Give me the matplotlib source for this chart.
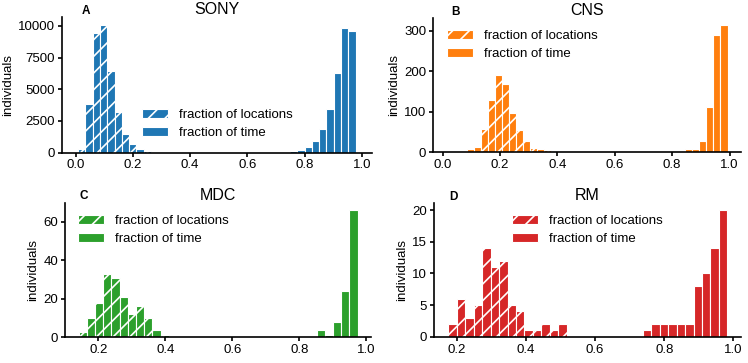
import numpy as np
import matplotlib
matplotlib.use("Agg")
import matplotlib.pyplot as plt
from matplotlib.patches import Patch

plt.rcParams['font.family'] = ['Liberation Sans', 'DejaVu Sans']
plt.rcParams['hatch.linewidth'] = 1.2

# ---------------- data ----------------
titles = ["SONY", "CNS", "MDC", "RM"]
letters = ["A", "B", "C", "D"]
colors = ["#1f77b4", "#ff7f0e", "#2ca02c", "#d62728"]

# bin edges (lo, hi, number of bins)
sony_bins = (0.008, 0.979, 38)
cns_bins = (0.084, 0.993, 37)
mdc_bins = (0.141, 0.974, 34)
rm_bins = (0.1756, 0.9825, 33)

sony_loc = [300, 3800, 9400, 10050, 6400, 3200, 1500, 650, 300, 130, 50, 20] + [0] * 26
sony_time = [0] * 27 + [10, 30, 80, 190, 420, 930, 1830, 3470, 6240, 9810, 9630]

cns_loc = [8, 12, 58, 130, 191, 169, 98, 56, 27, 10, 7, 5] + [0] * 25
cns_time = [0] * 29 + [2, 0, 7, 7, 27, 111, 290, 313]

mdc_loc = [3, 10, 18, 33, 31, 21, 12, 16, 10, 4, 1] + [0] * 23
mdc_time = [0] * 29 + [4, 1, 8, 24, 66]

rm_loc = [2, 6, 3, 5, 14, 11, 12, 5, 4, 1, 1, 2, 1, 2] + [0] * 19
rm_time = [0] * 23 + [1, 2, 2, 2, 2, 2, 8, 10, 14, 20]

xticks_ab = [0.0, 0.2, 0.4, 0.6, 0.8, 1.0]
xticks_cd = [0.2, 0.4, 0.6, 0.8, 1.0]
yticks = [[0, 2500, 5000, 7500, 10000], [0, 100, 200, 300], [0, 20, 40, 60], [0, 5, 10, 15, 20]]

# ---------------- layout ----------------
W, H = 748, 363
fig = plt.figure(figsize=(W / 100, H / 100), dpi=100)

def rect(l, r, t, b):
    return [l / W, (H - b) / H, (r - l) / W, (b - t) / H]

axes_px = [(62, 372, 17, 152.5), (433.3, 740.7, 18.3, 152.3),
           (65, 370.7, 202.7, 337.3), (434, 740.7, 203.3, 336.7)]
xlims = [(-0.048, 1.036), (-0.033, 1.039), (0.1006, 1.013), (0.134, 1.021)]
ylims = [(0, 10700), (0, 330.6), (0, 69.9), (0, 21.06)]
legend_pos = [(0.50, 0.21), (0.29, 0.80), (0.288, 0.795), (0.50, 0.798)]
letter_x = [0.064, 0.057, 0.049, 0.049]

datasets = [(sony_bins, sony_loc, sony_time), (cns_bins, cns_loc, cns_time),
            (mdc_bins, mdc_loc, mdc_time), (rm_bins, rm_loc, rm_time)]

fs = 9.5
for i, ((lo, hi, n), loc, tim) in enumerate(datasets):
    ax = fig.add_axes(rect(*axes_px[i]))
    edges = np.linspace(lo, hi, n + 1)
    widths = np.diff(edges)
    c = colors[i]
    ax.bar(edges[:-1], loc, width=widths, align='edge', color=c,
           edgecolor='white', linewidth=0.8, hatch='//', label='fraction of locations')
    ax.bar(edges[:-1], tim, width=widths, align='edge', color=c,
           edgecolor='white', linewidth=0.8, label='fraction of time')
    ax.set_xlim(*xlims[i])
    ax.set_ylim(*ylims[i])
    ax.set_xticks(xticks_ab if i < 2 else xticks_cd)
    ax.set_yticks(yticks[i])
    ax.xaxis.set_major_formatter(matplotlib.ticker.FormatStrFormatter('%.1f'))
    for s in ['top', 'right']:
        ax.spines[s].set_visible(False)
    for s in ['left', 'bottom']:
        ax.spines[s].set_linewidth(1.2)
    ax.tick_params(labelsize=fs, length=3, width=1.2, pad=2)
    ax.set_ylabel('individuals', fontsize=fs, labelpad=3)
    ax.set_title(titles[i], fontsize=11.5, pad=1)
    ax.text(letter_x[i], 1.025, letters[i], transform=ax.transAxes,
            fontsize=8.5, fontweight='bold', va='baseline', ha='left')
    handles = [Patch(facecolor=c, edgecolor='white', hatch='//', linewidth=0.8),
               Patch(facecolor=c, edgecolor='white', linewidth=0.8)]
    ax.legend(handles, ['fraction of locations', 'fraction of time'],
              loc='center', bbox_to_anchor=legend_pos[i], frameon=False,
              fontsize=fs, handlelength=2.0, handletextpad=0.8, labelspacing=0.45)

fig.savefig('out.png', dpi=100)
